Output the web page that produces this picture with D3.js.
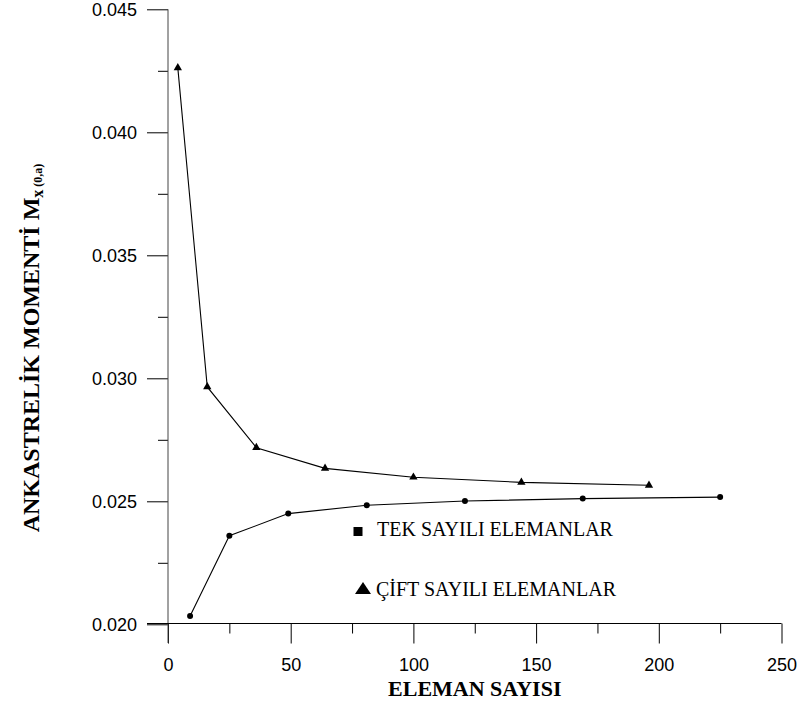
<!DOCTYPE html>
<html>
<head>
<meta charset="utf-8">
<script src="https://cdn.jsdelivr.net/npm/d3@7"></script>
<style>
    body { margin: 0; background: #fff; }
    svg { display: block; }
    .tick text { font-family: "Liberation Sans", Arial, sans-serif; font-size: 18px; fill: #000; }
    .serif { font-family: "Liberation Serif", "Times New Roman", serif; fill: #000; }
</style>
</head>
<body>
<svg id="chart" width="799" height="709"></svg>
<script>
// TEK = odd element counts (circles), CIFT = even element counts (triangles)
const tekX = [9, 25, 49, 81, 121, 169, 225];
const tekY = [0.02034, 0.02360, 0.02450, 0.02484, 0.02501, 0.02511, 0.02517];
const ciftX = [4, 16, 36, 64, 100, 144, 196];
const ciftY = [0.04262, 0.02965, 0.02718, 0.02634, 0.02598, 0.02577, 0.02565];

const xMajor = [0, 50, 100, 150, 200, 250];
const xMinor = [25, 75, 125, 175, 225];
const yMajor = [0.020, 0.025, 0.030, 0.035, 0.040, 0.045];
const yMinor = [0.0225, 0.0275, 0.0325, 0.0375, 0.0425];

const legendLabels = ["TEK SAYILI ELEMANLAR", "ÇİFT SAYILI ELEMANLAR"];

const svg = d3.select('#chart');

const x = d3.scaleLinear().domain([0, 250]).range([168, 781.5]);
const y = d3.scaleLinear().domain([0.020, 0.045]).range([624.3, 9.3]);

// y axis, major + minor ticks
svg.append('g')
    .attr('transform', 'translate(168,0)')
    .call(d3.axisLeft(y).tickValues(yMajor).tickSize(21).tickSizeOuter(0)
        .tickPadding(10).tickFormat(d3.format('.3f')))
    .call(g => g.select('.domain').remove());
svg.append('g')
    .attr('transform', 'translate(168,0)')
    .call(d3.axisLeft(y).tickValues(yMinor).tickSize(10).tickFormat(''))
    .call(g => g.select('.domain').remove());

// x axis
svg.append('g')
    .attr('transform', 'translate(0,623.5)')
    .call(d3.axisBottom(x).tickValues(xMajor).tickSize(20).tickSizeOuter(0)
        .tickPadding(15).tickFormat(d3.format('d')))
    .call(g => g.select('.domain').remove());
svg.append('g')
    .attr('transform', 'translate(0,623.5)')
    .call(d3.axisBottom(x).tickValues(xMinor).tickSize(10).tickFormat(''))
    .call(g => g.select('.domain').remove());

svg.selectAll('.tick line').attr('stroke', '#000');

// axis lines
svg.append('line')
    .attr('x1', 168).attr('x2', 168)
    .attr('y1', y(0.045)).attr('y2', 643)
    .attr('stroke', '#444').attr('stroke-width', 1);
svg.append('line')
    .attr('x1', 147).attr('x2', x(250))
    .attr('y1', 623.5).attr('y2', 623.5)
    .attr('stroke', '#000').attr('stroke-width', 1);

const line = d3.line()
    .x(d => x(d[0]))
    .y(d => y(d[1]));

const tek = tekX.map((v, i) => [v, tekY[i]]);
const cift = ciftX.map((v, i) => [v, ciftY[i]]);

svg.append('path')
    .datum(tek)
    .attr('d', line)
    .attr('fill', 'none')
    .attr('stroke', '#000')
    .attr('stroke-width', 1.1);

svg.append('path')
    .datum(cift)
    .attr('d', line)
    .attr('fill', 'none')
    .attr('stroke', '#000')
    .attr('stroke-width', 1.1);

svg.selectAll('circle.tek')
    .data(tek)
    .enter().append('circle')
    .attr('class', 'tek')
    .attr('cx', d => x(d[0]))
    .attr('cy', d => y(d[1]))
    .attr('r', 3)
    .attr('fill', '#000');

const tri = d3.symbol().type(d3.symbolTriangle).size(30);
svg.selectAll('path.cift')
    .data(cift)
    .enter().append('path')
    .attr('class', 'cift')
    .attr('d', tri)
    .attr('transform', d => 'translate(' + x(d[0]) + ',' + y(d[1]) + ')')
    .attr('fill', '#000');

// legend
svg.append('rect')
    .attr('x', 353.5).attr('y', 527)
    .attr('width', 9).attr('height', 9)
    .attr('fill', '#000');
svg.append('path')
    .attr('d', 'M363,582 L371,594 L355,594 Z')
    .attr('fill', '#000');

svg.append('text')
    .attr('class', 'serif')
    .attr('x', 377).attr('y', 536)
    .style('font-size', '20px')
    .text(legendLabels[0]);
svg.append('text')
    .attr('class', 'serif')
    .attr('x', 376).attr('y', 596)
    .style('font-size', '20px')
    .text(legendLabels[1]);

// axis titles
svg.append('text')
    .attr('class', 'serif')
    .attr('x', x(125)).attr('y', 696)
    .attr('text-anchor', 'middle')
    .style('font-size', '22px')
    .style('font-weight', 'bold')
    .text('ELEMAN SAYISI');

const yTitle = svg.append('text')
    .attr('class', 'serif')
    .attr('transform', 'translate(39,348) rotate(-90)')
    .attr('text-anchor', 'middle')
    .style('font-size', '24px')
    .style('font-weight', 'bold');
yTitle.append('tspan').text('ANKASTRELİK MOMENTİ M');
yTitle.append('tspan').attr('dy', 4).style('font-size', '16px').text('x');
yTitle.append('tspan').attr('dy', -1).style('font-size', '12px').text(' (0,a)');
</script>
</body>
</html>
